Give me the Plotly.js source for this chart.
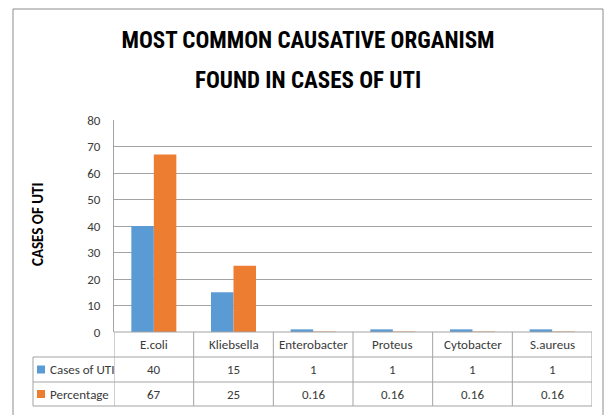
<!DOCTYPE html>
<html>
<head>
<meta charset="utf-8">
<script src="https://cdn.plot.ly/plotly-3.0.1.min.js"></script>
<style>
html,body{margin:0;padding:0;background:#fff;}
#chart{width:608px;height:415px;}
</style>
</head>
<body>
<div id="chart"></div>
<script>
// ---- data ----
const categories = ['E.coli', 'Kliebsella', 'Enterobacter', 'Proteus', 'Cytobacter', 'S.aureus'];
const casesOfUTI = [40, 15, 1, 1, 1, 1];
const percentage = [67, 25, 0.16, 0.16, 0.16, 0.16];
const seriesNames = ['Cases of UTI', 'Percentage'];
const seriesColors = ['#5B9BD5', '#ED7D31'];
const yTickValues = [0, 10, 20, 30, 40, 50, 60, 70, 80];
const titleLines = ['MOST COMMON CAUSATIVE ORGANISM', 'FOUND IN CASES OF UTI'];
const yAxisTitle = 'CASES OF UTI';

// ---- geometry helpers (pixel -> paper) ----
const W = 608, H = 415;
const M = {l: 114, r: 16, t: 120, b: 83};
const PW = W - M.l - M.r, PH = H - M.t - M.b;
const px = p => (p - M.l) / PW;
const py = p => (H - M.b - p) / PH;

const FONT = "Carlito, 'Liberation Sans', Arial, sans-serif";
const TITLE_FONT = "'Roboto Condensed', Carlito, sans-serif";
const GRID = '#a3a3a3';
const TXT = '#3a3a3a';

const seriesValues = [casesOfUTI, percentage];
const traces = seriesValues.map((vals, i) => ({
  type: 'bar',
  name: seriesNames[i],
  x: categories,
  y: vals,
  marker: {color: seriesColors[i]},
  hoverinfo: 'x+y+name'
}));

// table rows (pixel boundaries)
const rowTop = 332, hdrBottom = 357, row2Bottom = 382, tableBottom = 406;
const tableLeft = 33;

const shapes = [];
const line = (x0, y0, x1, y1, xref) => shapes.push({
  type: 'line', xref: xref || 'paper', yref: 'paper',
  x0, y0, x1, y1, line: {color: GRID, width: 1}
});
// horizontal table lines
line(0, py(rowTop), 1, py(rowTop));
line(px(tableLeft), py(hdrBottom), 1, py(hdrBottom));
line(px(tableLeft), py(row2Bottom), 1, py(row2Bottom));
line(px(tableLeft), py(tableBottom), 1, py(tableBottom));
// vertical table lines at category boundaries
for (let i = 0; i <= categories.length; i++) {
  line(i - 0.5, py(rowTop), i - 0.5, py(tableBottom), 'x');
}
line(px(tableLeft), py(hdrBottom), px(tableLeft), py(tableBottom));
// outer chart frame
shapes.push({
  type: 'rect', xref: 'paper', yref: 'paper',
  x0: px(13), x1: px(603), y0: py(9), y1: py(430),
  line: {color: '#8c8c8c', width: 1}, fillcolor: 'rgba(0,0,0,0)', layer: 'below'
});
// legend keys in table
const rowCenters = [(hdrBottom + row2Bottom) / 2, (row2Bottom + tableBottom) / 2];
rowCenters.forEach((c, i) => {
  shapes.push({
    type: 'rect', xref: 'paper', yref: 'paper',
    x0: px(37), x1: px(45), y0: py(c - 4), y1: py(c + 4),
    line: {width: 0}, fillcolor: seriesColors[i]
  });
});

const annotations = [];
// second title line
annotations.push({
  text: '<b>' + titleLines[1] + '</b>', xref: 'paper', yref: 'paper',
  x: px(308), y: py(80), xanchor: 'center', yanchor: 'middle', showarrow: false,
  font: {family: TITLE_FONT, size: 23, color: '#000'}
});
// category header row
categories.forEach((c, i) => annotations.push({
  text: c, xref: 'x', yref: 'paper', x: i, y: py((rowTop + hdrBottom) / 2),
  xanchor: 'center', yanchor: 'middle', showarrow: false,
  font: {family: FONT, size: 13, color: TXT}
}));
// value rows
seriesValues.forEach((vals, r) => {
  annotations.push({
    text: seriesNames[r], xref: 'paper', yref: 'paper', x: px(48), y: py(rowCenters[r]),
    xanchor: 'left', yanchor: 'middle', showarrow: false,
    font: {family: FONT, size: 13, color: TXT}
  });
  vals.forEach((v, i) => annotations.push({
    text: String(v), xref: 'x', yref: 'paper', x: i, y: py(rowCenters[r]),
    xanchor: 'center', yanchor: 'middle', showarrow: false,
    font: {family: FONT, size: 13, color: TXT}
  }));
});
// y axis title
annotations.push({
  text: '<b>' + yAxisTitle + '</b>', xref: 'paper', yref: 'paper',
  x: px(38), y: py(225), textangle: -90, xanchor: 'center', yanchor: 'middle',
  showarrow: false, font: {family: FONT, size: 15, color: '#000'}
});

const layout = {
  width: W, height: H,
  margin: {l: M.l, r: M.r, t: M.t, b: M.b, pad: 0},
  paper_bgcolor: '#fff', plot_bgcolor: '#fff',
  showlegend: false,
  barmode: 'group', bargap: 0.435, bargroupgap: 0,
  title: {
    text: '<b>' + titleLines[0] + '</b>', xref: 'container', yref: 'container',
    x: 308 / W, y: 1 - 40 / H, xanchor: 'center', yanchor: 'middle',
    font: {family: TITLE_FONT, size: 23, color: '#000'}
  },
  xaxis: {
    type: 'category', range: [-0.5, categories.length - 0.5],
    showticklabels: false, showgrid: false, zeroline: false, showline: false, ticks: ''
  },
  yaxis: {
    range: [0, 80], tickvals: yTickValues, ticktext: yTickValues.map(String),
    showgrid: true, gridcolor: GRID, gridwidth: 1, zeroline: false,
    showline: true, linecolor: GRID, linewidth: 1, ticks: '',
    ticklabelstandoff: 10,
    tickfont: {family: FONT, size: 13, color: TXT}
  },
  shapes, annotations
};

Plotly.newPlot('chart', traces, layout, {displayModeBar: false, staticPlot: true});
</script>
</body>
</html>
